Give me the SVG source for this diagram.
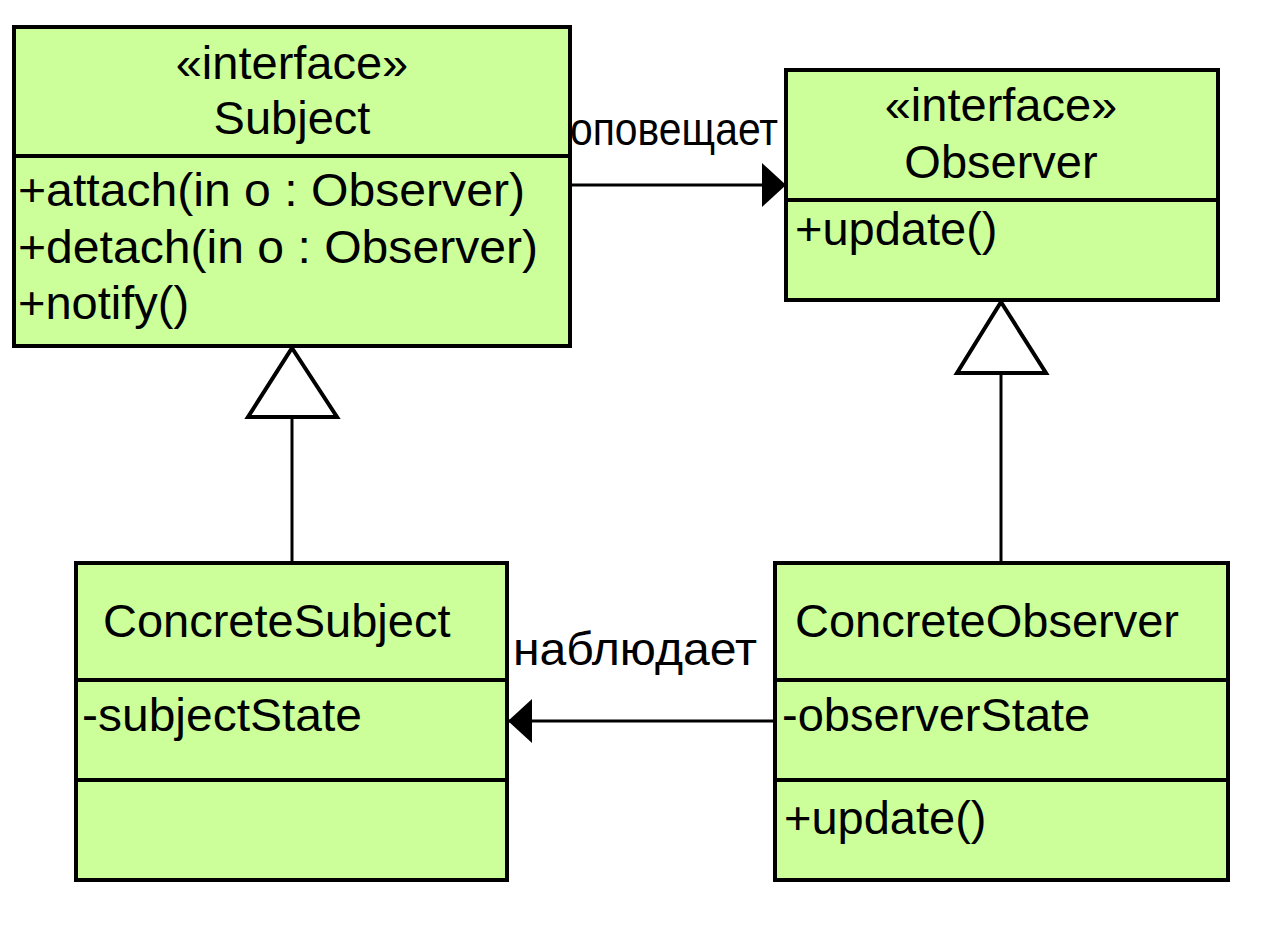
<svg xmlns="http://www.w3.org/2000/svg" width="1280" height="943" viewBox="0 0 1280 943">
<defs>
<style>
.box{fill:#ccff99;stroke:#000;stroke-width:4}
.div{stroke:#000;stroke-width:4}
.ln{stroke:#000;stroke-width:3;fill:none}
.tri{fill:#fff;stroke:#000;stroke-width:4}
text{font-family:"Liberation Sans",Arial,sans-serif;font-size:47px;fill:#000}
.c{text-anchor:middle}
</style>
<marker id="arr" viewBox="0 0 24 44" refX="24" refY="22" markerWidth="24" markerHeight="44" markerUnits="userSpaceOnUse" orient="auto">
<path d="M0,0 L24,22 L0,44 Z" fill="#000"/>
</marker>
</defs>
<rect width="1280" height="943" fill="#fff"/>
<g id="connectors">
<line class="ln" x1="570" y1="185" x2="786" y2="185" marker-end="url(#arr)"/>
<text x="674" y="145" class="c" textLength="208" lengthAdjust="spacingAndGlyphs">оповещает</text>
<line class="ln" x1="775" y1="721" x2="508" y2="721" marker-end="url(#arr)"/>
<text x="635" y="665" class="c" textLength="244" lengthAdjust="spacingAndGlyphs">наблюдает</text>
<line class="ln" x1="292" y1="417" x2="292" y2="563"/>
<polygon class="tri" points="292,348 337,417 248,417"/>
<line class="ln" x1="1001" y1="373" x2="1001" y2="563"/>
<polygon class="tri" points="1001,302 1046,373 957,373"/>
</g>
<g id="subject">
<rect class="box" x="14" y="27" width="556" height="319"/>
<line class="div" x1="14" y1="156" x2="570" y2="156"/>
<text x="292" y="79" class="c">«interface»</text>
<text x="292" y="134" class="c">Subject</text>
<text x="18" y="206" textLength="507" lengthAdjust="spacingAndGlyphs">+attach(in o : Observer)</text>
<text x="18" y="263" textLength="520" lengthAdjust="spacingAndGlyphs">+detach(in o : Observer)</text>
<text x="18" y="319">+notify()</text>
</g>
<g id="observer">
<rect class="box" x="786" y="70" width="432" height="230"/>
<line class="div" x1="786" y1="200" x2="1218" y2="200"/>
<text x="1001" y="121" class="c">«interface»</text>
<text x="1001" y="178" class="c">Observer</text>
<text x="795" y="245">+update()</text>
</g>
<g id="concreteSubject">
<rect class="box" x="76" y="563" width="431" height="317"/>
<line class="div" x1="76" y1="680" x2="507" y2="680"/>
<line class="div" x1="76" y1="780" x2="507" y2="780"/>
<text x="103" y="637">ConcreteSubject</text>
<text x="82" y="731" textLength="280" lengthAdjust="spacingAndGlyphs">-subjectState</text>
</g>
<g id="concreteObserver">
<rect class="box" x="775" y="563" width="453" height="317"/>
<line class="div" x1="775" y1="680" x2="1228" y2="680"/>
<line class="div" x1="775" y1="780" x2="1228" y2="780"/>
<text x="795" y="637">ConcreteObserver</text>
<text x="782" y="731">-observerState</text>
<text x="784" y="834">+update()</text>
</g>
</svg>
